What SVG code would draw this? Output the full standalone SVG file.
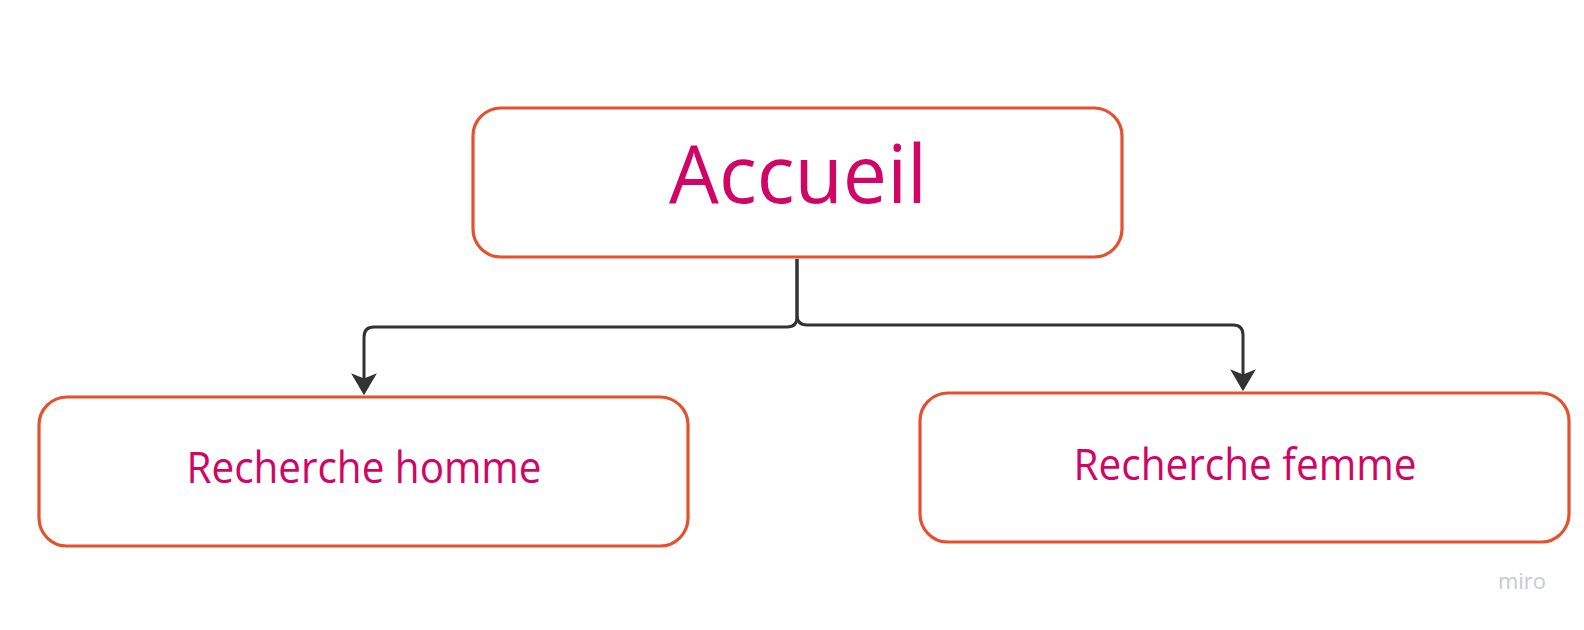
<svg xmlns="http://www.w3.org/2000/svg" width="1584" height="630" viewBox="0 0 1584 630">
<style>
.box{fill:#ffffff;stroke:#e5502f;stroke-width:3.2}
.lbl{font-family:"Open Sans","Noto Sans",sans-serif;fill:#d10565;text-anchor:middle}
.conn{fill:none;stroke:#333333;stroke-width:3;stroke-linejoin:round}
.wm{font-family:"Open Sans","Noto Sans",sans-serif;fill:#c6c9d4;font-weight:500}
</style>
<defs>
<marker id="arr" markerUnits="userSpaceOnUse" markerWidth="26" markerHeight="28" viewBox="0 -13 22 26" refX="10" refY="0" orient="auto">
<path d="M0,-12 L20.5,0 L0,12 L5,0 Z" fill="#333333"/>
</marker>
</defs>
<rect width="1584" height="630" fill="#ffffff"/>
<g id="connectors">
<path class="conn" d="M797,259 V317 Q797,327 787,327 H374 Q364,327 364,337 V384" marker-end="url(#arr)"/>
<path class="conn" d="M797,259 V315 Q797,325 807,325 H1233 Q1243,325 1243,335 V380" marker-end="url(#arr)"/>
</g>
<g id="accueil">
<rect class="box" x="473" y="108" width="649" height="149" rx="28"/>
<text class="lbl" x="798" y="203" font-size="81" textLength="258" lengthAdjust="spacingAndGlyphs">Accueil</text>
</g>
<g id="recherche-homme">
<rect class="box" x="39" y="397" width="649" height="149" rx="28"/>
<text class="lbl" x="364" y="483" font-size="43" textLength="355" lengthAdjust="spacingAndGlyphs">Recherche homme</text>
</g>
<g id="recherche-femme">
<rect class="box" x="920" y="393" width="649" height="149" rx="28"/>
<text class="lbl" x="1245" y="480" font-size="43" textLength="343" lengthAdjust="spacingAndGlyphs">Recherche femme</text>
</g>
<text class="wm" x="1498" y="589" font-size="21" textLength="48" lengthAdjust="spacingAndGlyphs">miro</text>
</svg>
